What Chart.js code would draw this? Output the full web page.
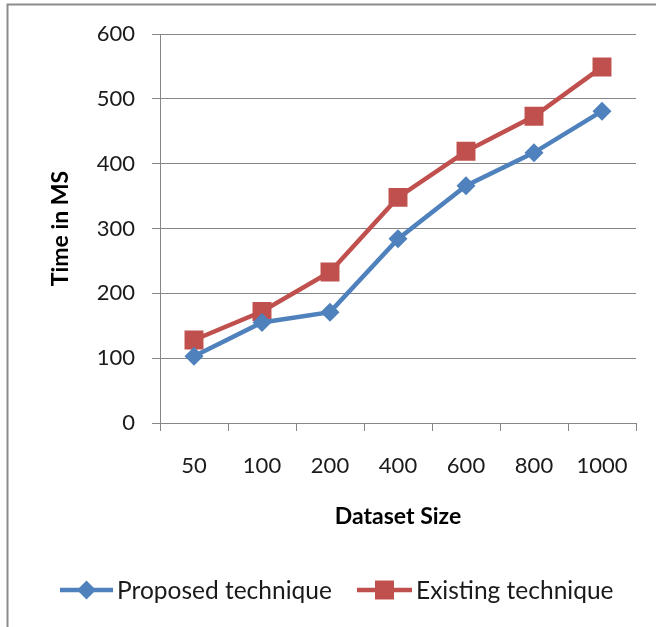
<!DOCTYPE html>
<html>
<head>
<meta charset="utf-8">
<script src="https://cdn.jsdelivr.net/npm/chart.js@4.4.1/dist/chart.umd.min.js"></script>
<style>
  html, body { margin: 0; padding: 0; background: #fff; }
  #wrap { width: 656px; height: 627px; position: relative; }
</style>
</head>
<body>
<div id="wrap"><canvas id="c" width="656" height="627"></canvas></div>
<script>
// Dataset sizes on the x axis
const categories = ['50', '100', '200', '400', '600', '800', '1000'];
// Time in ms for each technique
const proposed = [103, 155, 171, 284, 366, 417, 481];
const existing = [128, 172, 233, 348, 419, 473, 549];
// Value axis ticks
const yTicks = [0, 100, 200, 300, 400, 500, 600];

const seriesNames = ['Proposed technique', 'Existing technique'];
const BLUE = '#4F81BD';
const RED = '#C0504D';
const GRID = '#868686';
const FONT = 'Lato, "Open Sans", sans-serif';

// Outer frame and a line-and-marker legend under the chart
const frameAndLegend = {
  id: 'frameAndLegend',
  beforeDraw(chart) {
    const ctx = chart.ctx;
    ctx.save();
    ctx.strokeStyle = '#8c8c8c';
    ctx.lineWidth = 2;
    ctx.beginPath();
    ctx.moveTo(7.5, 700);
    ctx.lineTo(7.5, 4.5);
    ctx.lineTo(700, 4.5);
    ctx.stroke();
    ctx.restore();
  },
  afterDraw(chart) {
    const ctx = chart.ctx;
    const y = 590;
    const items = [
      { ds: chart.data.datasets[0], x0: 60, x1: 113, tx: 117 },
      { ds: chart.data.datasets[1], x0: 357, x1: 412, tx: 416 }
    ];
    ctx.save();
    items.forEach(it => {
      ctx.strokeStyle = it.ds.borderColor;
      ctx.lineWidth = it.ds.borderWidth;
      ctx.beginPath();
      ctx.moveTo(it.x0, y);
      ctx.lineTo(it.x1, y);
      ctx.stroke();
      ctx.fillStyle = it.ds.pointBackgroundColor;
      ctx.strokeStyle = it.ds.pointBackgroundColor;
      Chart.helpers.drawPoint(ctx, {
        pointStyle: it.ds.pointStyle,
        radius: it.ds.pointRadius,
        borderWidth: 0
      }, (it.x0 + it.x1) / 2, y);
      ctx.fillStyle = '#1a1a1a';
      ctx.font = '24.5px ' + FONT;
      ctx.textBaseline = 'middle';
      ctx.textAlign = 'left';
      ctx.fillText(it.ds.label, it.tx, y + 1);
    });
    ctx.restore();
  }
};

new Chart(document.getElementById('c'), {
  type: 'line',
  data: {
    labels: categories,
    datasets: [
      {
        label: seriesNames[0],
        data: proposed,
        borderColor: BLUE,
        backgroundColor: BLUE,
        pointBackgroundColor: BLUE,
        pointBorderColor: BLUE,
        borderWidth: 4.5,
        pointStyle: 'rectRot',
        pointRadius: 9.5,
        pointBorderWidth: 0,
        tension: 0
      },
      {
        label: seriesNames[1],
        data: existing,
        borderColor: RED,
        backgroundColor: RED,
        pointBackgroundColor: RED,
        pointBorderColor: RED,
        borderWidth: 4.5,
        pointStyle: 'rect',
        pointRadius: 13.4,
        pointBorderWidth: 0,
        tension: 0
      }
    ]
  },
  options: {
    responsive: false,
    animation: false,
    events: [],
    layout: { padding: { left: 20, right: 20, top: 34, bottom: 74 } },
    plugins: {
      legend: { display: false },
      tooltip: { enabled: false }
    },
    scales: {
      x: {
        type: 'category',
        offset: true,
        grid: {
          offset: true,
          drawOnChartArea: false,
          drawTicks: true,
          tickLength: 8,
          color: GRID
        },
        border: { color: GRID, width: 1 },
        ticks: {
          color: '#1a1a1a',
          font: { family: FONT, size: 22 },
          padding: 22,
          maxRotation: 0
        },
        title: {
          display: true,
          text: 'Dataset Size',
          color: '#000',
          font: { family: FONT, size: 23, weight: 'bold' },
          padding: { top: 0, bottom: 23 }
        },
        afterFit(scale) { scale.height = 130; }
      },
      y: {
        min: 0,
        max: 600,
        afterBuildTicks(scale) { scale.ticks = yTicks.map(v => ({ value: v })); },
        grid: {
          color: GRID,
          tickLength: 8,
          lineWidth: 1
        },
        border: { color: GRID, width: 1 },
        ticks: {
          color: '#1a1a1a',
          font: { family: FONT, size: 22 },
          padding: 17
        },
        title: {
          display: true,
          text: 'Time in MS',
          color: '#000',
          font: { family: FONT, size: 23, weight: 'bold' },
          padding: { top: 27, bottom: 0 }
        },
        afterFit(scale) { scale.width = 140; }
      }
    }
  },
  plugins: [frameAndLegend]
});
</script>
</body>
</html>
